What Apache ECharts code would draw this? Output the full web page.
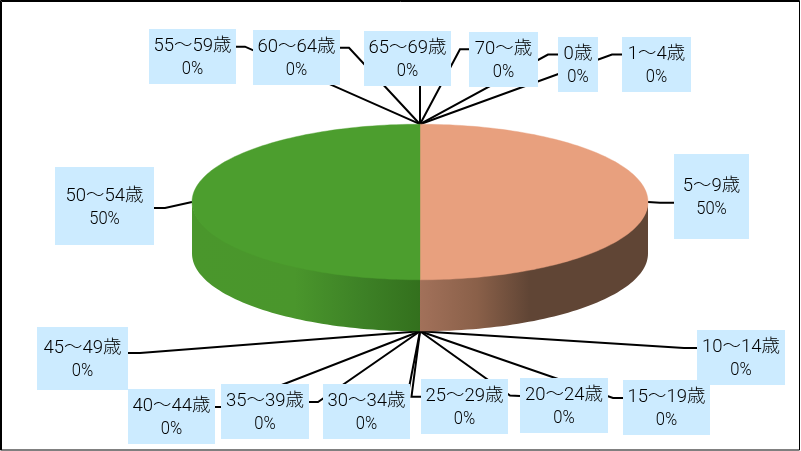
<!DOCTYPE html>
<html><head><meta charset="utf-8">
<style>html,body{margin:0;padding:0;background:#fff}#c{width:801px;height:451px}</style>
<script src="https://cdn.jsdelivr.net/npm/echarts@6/dist/echarts.min.js"></script>
</head><body><div id="c"></div>
<script>
// ---- data ----
const categories = ['0歳','1～4歳','5～9歳','10～14歳','15～19歳','20～24歳','25～29歳','30～34歳','35～39歳','40～44歳','45～49歳','50～54歳','55～59歳','60～64歳','65～69歳','70～歳'];
const values = [0,0,50,0,0,0,0,0,0,0,0,50,0,0,0,0];
// ---- layout (not data) ----
const pie = {cx:420, cy:202, rx:228, ry:77.8, depth:51.5};
const boxes = [[558,37,40,55],[622,37,69,55],[674,154,75,85],[697,330,88,55],[623,380,87,55],[520,378,88,55],[421,379,87,55],[323,384,87,55],[221,384,88,55],[128,389,87,55],[37,327,91,63],[55,167,99,78],[149,29,87,55],[253,30,87,55],[364,31,87,55],[469,32,69,55]];
const leaderEnds = [[[558,54.5],[548,54.5]],[[622,54.5],[612,54.5]],[[674,202.7],[660,202.7]],[[697,348],[684,348]],[[623,398],[613,398]],[[520,396],[510,395.5]],[[421,396.7],[411.5,396.7]],[[407,398]],[[309,402],[318,402]],[[215,407],[225,407]],[[128,353],[140,353]],[[154,208],[165,208]],[[236,46.7],[245,46.7]],[[340,47.7],[349,47.7]],[[420,60]],[[469,49.3],[460,49.3]]];
const sliceStyle = {
  2:{top:'#E8A07E', x:420, x2:648, stops:[[0,'#A2715A'],[0.25,'#8A6049'],[0.48,'#604535'],[1,'#604535']]},
  11:{top:'#4C9E2E', x:192, x2:420, stops:[[0,'#4A972C'],[0.45,'#4A962C'],[0.75,'#3D8126'],[1,'#33701D']]}
};
const total = values.reduce((a,b)=>a+b,0);
const CJK = '"Noto Sans CJK JP"';
const D = Math.PI/180;
function angles(i){ // clockwise from 12 o'clock, in degrees
  let s=0; for(let k=0;k<i;k++) s+=values[k];
  return [s/total*360,(s+values[i])/total*360];
}
function pt(deg,dy){return [pie.cx+pie.rx*Math.sin(deg*D), pie.cy-pie.ry*Math.cos(deg*D)+(dy||0)];}
function arc(a0,a1,dy){const n=Math.max(2,Math.ceil(Math.abs(a1-a0)/1.5));const r=[];for(let j=0;j<=n;j++)r.push(pt(a0+(a1-a0)*j/n,dy));return r;}
function anchor(i){const [a,b]=angles(i);const m=(a+b)/2;return pt(m, Math.cos(m*D)<-0.01?pie.depth:0);}
const seriesData = categories.map((c,i)=>({name:c,value:[i,values[i]]}));
const option = {
  animation:false,
  backgroundColor:'#fff',
  graphic:[
    {type:'rect',shape:{x:0.5,y:0.5,width:799,height:449.5},style:{fill:'none',stroke:'#000',lineWidth:1},z:100},
    {type:'polyline',shape:{points:[[1.5,450],[1.5,1.5],[799,1.5]]},style:{fill:null,stroke:'#000',lineWidth:1},z:100}
  ],
  series:[
    {type:'custom',name:'leaders',coordinateSystem:'none',z:1,silent:true,data:seriesData,
     renderItem(p,api){const i=api.value(0);
       const pts=leaderEnds[i].concat([anchor(i)]);
       return {type:'polyline',shape:{points:pts},style:{fill:null,stroke:'#000',lineWidth:2}};}},
    {type:'custom',name:'slices',coordinateSystem:'none',z:2,silent:true,data:seriesData,
     renderItem(p,api){const i=api.value(0);const st=sliceStyle[i];
       if(!api.value(1)||!st)return {type:'group',children:[]};
       const [a,b]=angles(i);const children=[];
       const f0=Math.max(a,90),f1=Math.min(b,270);
       if(f1>f0){
         const pts=arc(f0,f1,-1).concat(arc(f1,f0,pie.depth));
         children.push({type:'polygon',shape:{points:pts},style:{fill:new echarts.graphic.LinearGradient(st.x,0,st.x2,0,st.stops.map(s=>({offset:s[0],color:s[1]})),true)}});
       }
       children.push({type:'polygon',shape:{points:[[pie.cx,pie.cy]].concat(arc(a,b,0))},style:{fill:st.top,stroke:st.top,lineWidth:0.4}});
       return {type:'group',children};}},
    {type:'custom',name:'labels',coordinateSystem:'none',z:3,silent:true,data:seriesData,
     renderItem(p,api){const i=api.value(0);const [x,y,w,h]=boxes[i];
       const pct=Math.round(api.value(1)/total*100)+'%';
       const cx=x+w/2, cy=y+h/2;
       return {type:'group',children:[
         {type:'rect',shape:{x,y,width:w,height:h},style:{fill:'#CCEBFF'}},
         {type:'text',style:{x:cx,y:cy-10,text:categories[i],fill:'#000',font:'300 18.5px Roboto,'+CJK,textAlign:'center',textVerticalAlign:'middle'}},
         {type:'text',x:cx,y:cy+13,scaleX:0.92,style:{x:0,y:0,text:pct,fill:'#000',font:'300 18px Roboto,'+CJK,textAlign:'center',textVerticalAlign:'middle'}}
       ]};}}
  ]
};
const chart=echarts.init(document.getElementById('c'),null,{renderer:'canvas',width:801,height:451});
chart.setOption(option);
</script></body></html>
